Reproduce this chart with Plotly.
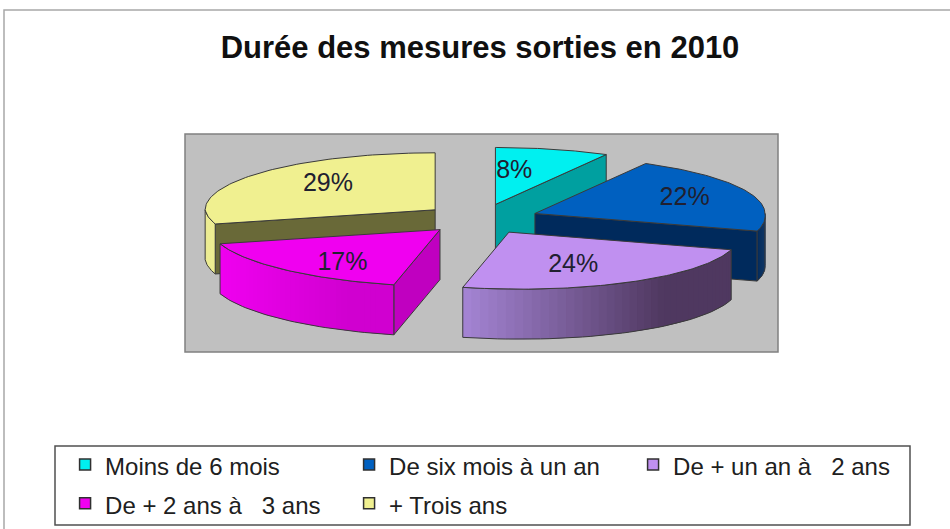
import numpy as np
import plotly.graph_objects as go

# ---- data ----
categories = ["Moins de 6 mois", "De six mois à un an", "De + un an à   2 ans", "De + 2 ans à   3 ans", "+ Trois ans"]
values = [8, 22, 24, 17, 29]
title = "Durée des mesures sorties en 2010"

# ---- style ----
top_colors = ["#00F0F0", "#0060C0", "#C090F0", "#F000F0", "#F0F090"]
wall_left = ["#00A0A0", "#002A5C", "#A585D5", "#F000F0", "#F0F090"]
wall_right = ["#00A0A0", "#002A5C", "#4F3860", "#D000D0", "#F0F090"]
cut_colors = ["#00A0A0", "#002A5C", "#4F3860", "#C000C0", "#696938"]
edge = "#3A3A3A"
draw_order = [4, 0, 1, 3, 2]

CX, CY, RX, RY, DEPTH = 481, 219, 230, 57, 50
PULL_X, PULL_Y = 58, 15
SHEAR = 0.2
label_fx = [0.33, 0.70, 0.58, 0.60, 0.59]
label_fy = [0.62, 0.80, 0.64, 0.80, 0.77]
LABEL_DROP = 2


def hex2rgb(h):
    return np.array([int(h[i:i + 2], 16) for i in (1, 3, 5)], dtype=float)


def mix(a, b, t):
    c = hex2rgb(a) * (1 - t) + hex2rgb(b) * t
    return "rgb(%d,%d,%d)" % tuple(c)


def pt(ax, ay, deg):
    r = np.radians(deg)
    dy = -RY * np.cos(r)
    return ax + RX * np.sin(r) + SHEAR * np.maximum(dy, 0), ay + dy


fig = go.Figure()

# legend entries (order of categories)
for name, col in zip(categories, top_colors):
    fig.add_trace(go.Scatter(x=[None], y=[None], mode="markers",
                             name='<span style="font-size:24px">' + name + "</span>",
                             marker=dict(symbol="square", size=11, color=col,
                                         line=dict(color="#303030", width=1.5))))


def poly(xs, ys, fill, line=None, width=1):
    fig.add_trace(go.Scatter(
        x=list(xs) + [xs[0]], y=list(ys) + [ys[0]], mode="lines", fill="toself", fillcolor=fill,
        line=dict(color=line or fill, width=width if line else 0),
        showlegend=False, hoverinfo="skip"))


total = sum(values)
edges = np.concatenate([[0], np.cumsum(values)]) / total * 360
labels = []
for i in draw_order:
    a0, a1 = edges[i], edges[i + 1]
    mid = np.radians((a0 + a1) / 2)
    ax = CX + PULL_X * np.sin(mid)
    ay = CY - PULL_Y * np.cos(mid)

    # cut faces facing the viewer
    for a, visible in ((a1, np.sin(np.radians(a1)) > 0), (a0, np.sin(np.radians(a0)) < -1e-6)):
        if visible:
            px, py = pt(ax, ay, a)
            poly([ax, px, px, ax], [ay, py, py + DEPTH, ay + DEPTH], cut_colors[i], edge)

    # outer wall, front half only, shaded in overlapping strips
    w0, w1 = max(a0, 90), min(a1, 270)
    if w1 > w0:
        arc = np.linspace(w0, w1, 41)
        xa, ya = pt(ax, ay, arc)
        xmin, xmax = xa.min(), xa.max()
        n = len(arc)
        for k in range(n - 1):
            t = min(1, ((xa[k] + xa[k + 1]) / 2 - xmin) / (xmax - xmin) / 0.75)
            e = min(k + 2, n - 1)
            sx, sy = xa[k:e + 1], ya[k:e + 1]
            poly(list(sx) + list(sx[::-1]), list(sy) + list(sy[::-1] + DEPTH),
                 mix(wall_left[i], wall_right[i], t))
        fig.add_trace(go.Scatter(
            x=list(xa) + list(xa[::-1]) + [xa[0]],
            y=list(ya) + list(ya[::-1] + DEPTH) + [ya[0]],
            mode="lines", line=dict(color=edge, width=1), showlegend=False, hoverinfo="skip"))

    # top surface
    arc = np.linspace(a0, a1, 80)
    xt, yt = pt(ax, ay, arc)
    poly([ax] + list(xt), [ay] + list(yt), top_colors[i], edge)

    labels.append((ax + RX * np.sin(mid) * label_fx[i],
                   ay - RY * np.cos(mid) * label_fy[i] + LABEL_DROP,
                   "%d%%" % round(values[i] / total * 100)))

fig.add_trace(go.Scatter(
    x=[l[0] for l in labels], y=[l[1] for l in labels], text=[l[2] for l in labels],
    mode="text", textfont=dict(family="Liberation Sans", size=25, color="#202030"),
    showlegend=False, hoverinfo="skip"))

fig.update_layout(
    width=950, height=529, margin=dict(l=0, r=0, t=0, b=0), autosize=False,
    paper_bgcolor="white", plot_bgcolor="white", showlegend=True,
    xaxis=dict(range=[0, 950], visible=False, fixedrange=True),
    yaxis=dict(range=[529, 0], visible=False, fixedrange=True),
    title=dict(text="<b>" + title + "</b>", x=0.5053, xanchor="center", y=0.91, yanchor="middle",
               font=dict(family="Liberation Sans", size=31, color="#101010")),
    legend=dict(orientation="h", x=0.0685, xanchor="left", y=0.168, yanchor="top",
                entrywidth=239, entrywidthmode="pixels", tracegroupgap=0,
                bgcolor="rgba(0,0,0,0)", borderwidth=0,
                font=dict(family="Liberation Sans", size=27.5, color="#202020")),
    shapes=[
        dict(type="rect", layer="below", xref="x", yref="y", x0=4, y0=10, x1=960, y1=540,
             line=dict(color="#A8A8A8", width=1.5), fillcolor="white"),
        dict(type="rect", layer="below", xref="x", yref="y", x0=185, y0=134, x1=778, y1=352,
             line=dict(color="#808080", width=1.5), fillcolor="#C0C0C0"),
        dict(type="rect", layer="below", xref="x", yref="y", x0=55, y0=446, x1=910, y1=525,
             line=dict(color="#505050", width=1.5), fillcolor="white"),
    ],
)

fig.write_html("out.html", config={"displayModeBar": False},
               post_script="document.body.style.margin='0';")
